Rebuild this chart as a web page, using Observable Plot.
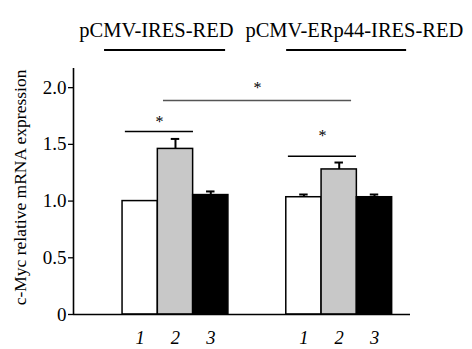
<!DOCTYPE html>
<html>
<head>
<meta charset="utf-8">
<script src="https://cdn.jsdelivr.net/npm/d3@7"></script>
<script src="https://cdn.jsdelivr.net/npm/@observablehq/plot@0.6"></script>
<style>
  html, body { margin: 0; padding: 0; background: #fff; }
  #chart svg, #chart svg text { font-family: "Liberation Serif", "Times New Roman", serif; }
</style>
</head>
<body>
<div id="chart"></div>
<script>
// ---- data ----
const groups = ["pCMV-IRES-RED", "pCMV-ERp44-IRES-RED"];
const groupStart = [1.39, 6.03];          // left edge of each group (bar-width units)
const groupLabelX = [2.35, 7.96];
const groupLineX = [[0.88, 4.31], [6.04, 9.44]];
const conditions = ["1", "2", "3"];
const means = [[1.0, 1.46, 1.053], [1.034, 1.279, 1.034]];
const errors = [[0, 0.088, 0.032], [0.024, 0.061, 0.024]];
const fills = ["#ffffff", "#c8c8c8", "#000000"];
const yTicks = [0, 0.5, 1.0, 1.5, 2.0];
const yTitle = "c-Myc relative mRNA expression";
// significance brackets (x in bar-width units, y in data units)
const brackets = [
  {x1: 1.47, x2: 3.40, y: 1.614, starY: 1.715, color: "#000"},
  {x1: 6.09, x2: 8.02, y: 1.396, starY: 1.592, color: "#000"},
  {x1: 2.55, x2: 7.88, y: 1.887, starY: 2.019, color: "#555"}
];

// ---- table ----
const bars = [];
groups.forEach((g, gi) => conditions.forEach((c, ci) => bars.push({
  group: g, cond: c, x1: groupStart[gi] + ci, x2: groupStart[gi] + ci + 1,
  xc: groupStart[gi] + ci + 0.5, mean: means[gi][ci], top: means[gi][ci] + errors[gi][ci],
  err: errors[gi][ci], fill: fills[ci]
})));
const errBars = bars.filter(d => d.err > 0);
const headLines = groups.map((g, i) => ({x1: groupLineX[i][0], x2: groupLineX[i][1]}));

const font = '"Liberation Serif", serif';
const plot = Plot.plot({
  width: 472, height: 349,
  marginLeft: 73, marginRight: 62, marginTop: 68, marginBottom: 35,
  x: {type: "linear", domain: [0, 9.55], axis: null},
  y: {domain: [0, 2.169], axis: null},
  style: {fontFamily: font, background: "#fff"},
  marks: [
    Plot.axisY({ticks: yTicks, tickFormat: d => d === 0 ? "0" : d.toFixed(1),
      tickSize: 5, tickPadding: 2, fontSize: 19, label: null, strokeWidth: 1.3, fill: "#000"}),
    Plot.rectY(bars, {x1: "x1", x2: "x2", y1: 0, y2: "mean", fill: "fill", stroke: "#000", strokeWidth: 1.5}),
    Plot.ruleX(errBars, {x: "xc", y1: "mean", y2: "top", stroke: "#000", strokeWidth: 2}),
    Plot.ruleY(errBars, {y: "top", x1: d => d.xc - 0.12, x2: d => d.xc + 0.12, stroke: "#000", strokeWidth: 2}),
    Plot.ruleX([0], {y1: 0, y2: 2.169, stroke: "#000", strokeWidth: 1.6}),
    Plot.ruleY([0], {x1: 0, x2: 9.55, stroke: "#000", strokeWidth: 1.6}),
    Plot.ruleY(brackets, {y: "y", x1: "x1", x2: "x2", stroke: "color", strokeWidth: 1.5}),
    Plot.text(brackets, {x: d => (d.x1 + d.x2) / 2, y: "starY", text: () => "*", lineAnchor: "bottom",
      dy: 7.5, fontSize: 16, fill: "#000"}),
    Plot.text(bars, {x: "xc", y: 0, text: "cond", lineAnchor: "bottom", dy: 29, fontSize: 18.5,
      fontStyle: "italic", fill: "#000"}),
    Plot.text(groups, {x: (d, i) => groupLabelX[i], y: 2.443, text: d => d, lineAnchor: "bottom",
      fontSize: 20.5, fill: "#000"}),
    Plot.ruleY(headLines, {y: 2.332, x1: "x1", x2: "x2", stroke: "#000", strokeWidth: 2}),
    Plot.text([yTitle], {x: -1.5, y: 1.12, rotate: -90, text: d => d, fontSize: 17.5, fill: "#000"})
  ]
});
document.getElementById("chart").appendChild(plot);
</script>
</body>
</html>
